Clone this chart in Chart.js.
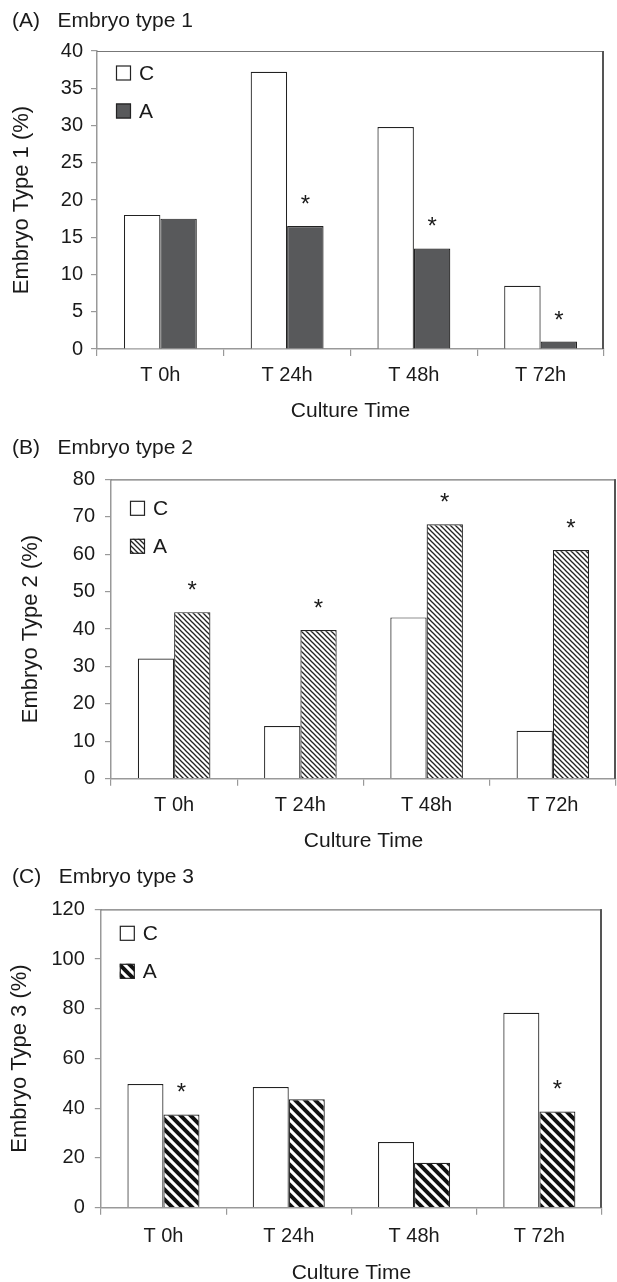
<!DOCTYPE html>
<html><head><meta charset="utf-8">
<script src="https://cdn.jsdelivr.net/npm/chart.js@4.4.1/dist/chart.umd.min.js"></script>
<style>
html,body{margin:0;padding:0;background:#fff;}
canvas{display:block;}
</style></head><body>
<canvas id="cA" width="617" height="425"></canvas>
<canvas id="cB" width="617" height="430"></canvas>
<canvas id="cC" width="617" height="427"></canvas>
<script>
// ---- data ----
const times=["T 0h","T 24h","T 48h","T 72h"];
const type1C=[18.0,37.2,29.8,8.5];
const type1A=[17.5,16.5,13.5,1.0];
const type1Sig=[false,true,true,true];
const type2C=[32.1,14.1,43.1,12.8];
const type2A=[44.5,39.7,68.0,61.1];
const type2Sig=[true,true,true,true];
const type3C=[49.7,48.5,26.4,78.4];
const type3A=[37.5,43.6,18.1,38.7];
const type3Sig=[true,false,false,true];
const yMax=[40,80,120];
const yStep=[5,10,20];

const FONT="'Liberation Sans', Arial, Helvetica, sans-serif";
Chart.defaults.font.family=FONT;
Chart.defaults.color="#1a1a1a";

// diagonal "\" hatch used as a fill
function hatch(period,width,color){
  const c=document.createElement("canvas"); c.width=c.height=period;
  const g=c.getContext("2d"); g.fillStyle="#fff"; g.fillRect(0,0,period,period);
  g.strokeStyle=color; g.lineWidth=width; g.lineCap="square";
  for(let k=-1;k<=1;k++){ g.beginPath(); g.moveTo(k*period,0); g.lineTo(k*period+period,period); g.stroke(); }
  return g.createPattern(c,"repeat");
}

// legend drawn inside the plot, top-left
const insideLegend={id:"insideLegend",afterDraw(chart,args,o){
  const {ctx,chartArea:a}=chart; ctx.save();
  chart.data.datasets.forEach((ds,i)=>{
    const x=a.left+o.dx, yc=a.top+o.dy+i*o.gap;
    ctx.fillStyle=ds.backgroundColor; ctx.fillRect(x,yc-7.5,15,15);
    ctx.strokeStyle="#222"; ctx.lineWidth=1.2; ctx.strokeRect(x+.5,yc-7,14,14);
    ctx.fillStyle="#1a1a1a"; ctx.font="21px "+FONT; ctx.textBaseline="middle"; ctx.textAlign="left";
    ctx.fillText(ds.label,x+23,yc+1);
  });
  ctx.restore();
}};
// significance stars over the A bars
const stars={id:"stars",afterDatasetsDraw(chart,args,o){
  const {ctx}=chart; const meta=chart.getDatasetMeta(1); ctx.save();
  ctx.fillStyle="#1a1a1a"; ctx.font="24px "+FONT; ctx.textAlign="center"; ctx.textBaseline="alphabetic";
  meta.data.forEach((bar,i)=>{ if(o.sig[i]) ctx.fillText("*",bar.x,bar.y-14); });
  ctx.restore();
}};
// top and right frame lines
const frame={id:"frame",afterDraw(chart){
  const {ctx,chartArea:a}=chart; ctx.save();
  ctx.strokeStyle="#777"; ctx.lineWidth=1.2;
  ctx.beginPath(); ctx.moveTo(a.left,a.top+.5); ctx.lineTo(a.right,a.top+.5); ctx.stroke();
  ctx.strokeStyle="#555"; ctx.lineWidth=2;
  ctx.beginPath(); ctx.moveTo(a.right-1,a.top); ctx.lineTo(a.right-1,a.bottom); ctx.stroke();
  ctx.restore();
}};

function panel(id,title,yTitle,cVals,aVals,sig,max,step,aFill,L){
  return new Chart(document.getElementById(id),{
    type:"bar",
    data:{labels:times,datasets:[
      {label:"C",data:cVals,backgroundColor:"#ffffff",borderColor:"#222",borderWidth:1.2,categoryPercentage:0.575,barPercentage:1.0},
      {label:"A",data:aVals,backgroundColor:aFill,borderColor:"#222",borderWidth:1.2,categoryPercentage:0.575,barPercentage:1.0}
    ]},
    options:{
      responsive:false,animation:false,
      layout:{padding:{left:12,right:L.padRight,top:0,bottom:0}},
      plugins:{
        legend:{display:false},tooltip:{enabled:false},
        title:{display:true,text:title,align:"start",color:"#1a1a1a",font:{size:21,weight:"normal"},padding:{top:L.titleTop,bottom:L.titleBottom}},
        insideLegend:{dx:19,dy:L.legDy,gap:38},
        stars:{sig:sig}
      },
      scales:{
        x:{
          grid:{display:true,drawOnChartArea:false,offset:true,tickLength:7,color:"#999",lineWidth:1.2},
          border:{display:true,color:"#999",width:1.5},
          ticks:{font:{size:20},padding:L.xTickPad,color:"#1a1a1a"},
          title:{display:true,text:"Culture Time",font:{size:21},color:"#1a1a1a",padding:{top:0,bottom:L.xTitlePad}},
          afterFit(s){ s.height=L.xHeight; }
        },
        y:{
          min:0,max:max,
          grid:{display:true,drawOnChartArea:false,tickLength:6,color:"#999",lineWidth:1.2},
          border:{display:true,color:"#999",width:1.5},
          ticks:{stepSize:step,font:{size:20},padding:L.yTickPad,color:"#1a1a1a"},
          title:{display:true,text:yTitle,font:{size:22},color:"#1a1a1a",padding:{top:L.yTitlePad,bottom:0}},
          afterFit(s){ s.width=L.yWidth; }
        }
      }
    },
    plugins:[insideLegend,stars,frame]
  });
}

panel("cA","(A)   Embryo type 1","Embryo Type 1 (%)",type1C,type1A,type1Sig,yMax[0],yStep[0],"#58595b",
  {padRight:13,titleTop:8.4,titleBottom:17.4,yWidth:85,yTitlePad:-3.2,yTickPad:8,xHeight:76,xTickPad:7,xTitlePad:1.4,legDy:22});
panel("cB","(B)   Embryo type 2","Embryo Type 2 (%)",type2C,type2A,type2Sig,yMax[1],yStep[1],hatch(5,1.3,"#222"),
  {padRight:1,titleTop:10.4,titleBottom:18.7,yWidth:99,yTitlePad:5.8,yTickPad:10,xHeight:76.3,xTickPad:8,xTitlePad:0.7,legDy:29});
panel("cC","(C)   Embryo type 3","Embryo Type 3 (%)",type3C,type3A,type3Sig,yMax[2],yStep[2],hatch(10,4,"#111"),
  {padRight:15,titleTop:9.4,titleBottom:19.7,yWidth:88.8,yTitlePad:-5.2,yTickPad:10,xHeight:74.3,xTickPad:10,xTitlePad:-3.6,legDy:24});
</script>
</body></html>
